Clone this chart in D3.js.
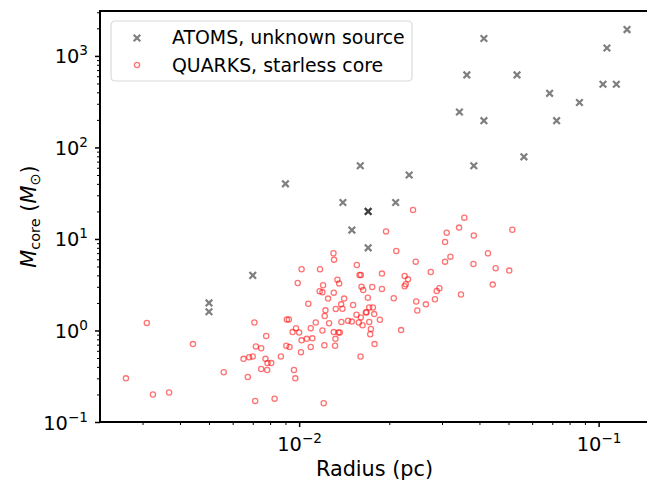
<!DOCTYPE html>
<html>
<head>
<meta charset="utf-8">
<script src="https://cdn.jsdelivr.net/npm/d3@7"></script>
<style>
  body { margin: 0; background: #fff; }
  text { font-family: "DejaVu Sans", sans-serif; }
</style>
</head>
<body>
<div id="chart"></div>
<script>
// ATOMS, unknown source: [radius (pc), mass (Msun)]
const atomsR = [0.005, 0.005, 0.007, 0.009, 0.014, 0.015, 0.016, 0.017, 0.017, 0.017, 0.021, 0.0233,
  0.0414, 0.0363, 0.0534, 0.0686, 0.0863, 0.1066, 0.1244, 0.1034, 0.1146, 0.0343, 0.0414, 0.0724, 0.0563, 0.0383];
const atomsM = [2.0, 1.6, 4.0, 40, 25, 12.5, 63, 20, 20, 8, 25, 50,
  1550, 620, 620, 390, 310, 1220, 1940, 490, 490, 244, 196, 196, 79, 63];

// QUARKS, starless core
const quarksR = [0.00264, 0.00325, 0.00368, 0.0031, 0.00442, 0.0056, 0.00652, 0.00674, 0.00681, 0.007,
  0.00709, 0.00713, 0.00717, 0.00747, 0.00747, 0.00772, 0.00776, 0.00782, 0.00784, 0.00807,
  0.00828, 0.00869, 0.00906, 0.0091, 0.00924, 0.00929, 0.00951, 0.00961, 0.00971, 0.00976,
  0.00989, 0.01, 0.01014, 0.01019, 0.01019, 0.0106, 0.01073, 0.01093, 0.01093, 0.01107,
  0.01136, 0.01171, 0.01174, 0.01196, 0.01202, 0.01208, 0.01214, 0.01217, 0.01224, 0.01196,
  0.01249, 0.01259, 0.01302, 0.01305, 0.01305, 0.01308, 0.01318, 0.01322, 0.01325, 0.01342,
  0.01353, 0.0136, 0.01367, 0.01381, 0.01395, 0.01384, 0.01413, 0.01457, 0.01499, 0.01514,
  0.01554, 0.01558, 0.01582, 0.01591, 0.01603, 0.01607, 0.01607, 0.01615, 0.01628, 0.01636,
  0.0167, 0.01679, 0.01696, 0.01714, 0.01714, 0.01727, 0.01736, 0.01754, 0.01763, 0.01781, 0.01786,
  0.024, 0.0356, 0.0342, 0.0515, 0.0195, 0.0311, 0.0383, 0.0307, 0.0211, 0.0427,
  0.032, 0.0245, 0.0307, 0.0382, 0.0453, 0.0503, 0.0275, 0.0189, 0.0225, 0.0231,
  0.0227, 0.0225, 0.0294, 0.0189, 0.0288, 0.0443, 0.0347, 0.0207, 0.0284, 0.0246,
  0.0265, 0.0248, 0.0186, 0.0219];
const quarksM = [0.30, 0.20, 0.21, 1.21, 0.71, 0.35, 0.49, 0.31, 0.51, 0.52,
  1.22, 0.17, 0.67, 0.64, 0.38, 0.49, 0.87, 0.37, 0.44, 0.44,
  0.18, 0.52, 0.68, 1.32, 1.32, 0.66, 0.96, 0.37, 0.30, 1.06,
  3.30, 0.95, 0.58, 0.78, 4.66, 0.81, 1.96, 1.06, 0.66, 0.82,
  1.22, 2.68, 4.66, 2.61, 3.12, 0.16, 0.69, 1.44, 1.66, 1.0,
  2.23, 1.20, 6.97, 0.96, 2.59, 5.94, 0.68, 0.81, 1.72, 3.59,
  0.95, 3.27, 0.95, 1.93, 1.73, 1.24, 2.23, 1.28, 1.25, 1.90,
  1.49, 5.20, 1.22, 4.04, 0.52, 4.04, 1.39, 3.01, 1.14, 2.77,
  1.57, 1.58, 2.28, 1.24, 1.78, 0.91, 1.04, 2.99, 1.78, 1.51, 0.71,
  20.7, 17.1, 13.3, 12.6, 12.1, 11.7, 10.9, 9.27, 7.39, 6.97,
  6.41, 5.65, 5.65, 5.33, 4.78, 4.51, 4.36, 4.18, 3.94, 3.62,
  3.20, 3.04, 2.89, 2.84, 2.70, 3.17, 2.47, 2.25, 2.19, 2.07,
  1.93, 1.65, 1.31, 1.01];

const xMajor = [-2, -1];
const yMajor = [-1, 0, 1, 2, 3];
const legendLabels = ['ATOMS, unknown source', 'QUARKS, starless core'];

const W = 647, H = 483;
const margin = {left: 100, right: -2, top: 11, bottom: 61};
const width = W - margin.left - margin.right;
const height = H - margin.top - margin.bottom;

const svg = d3.select('#chart').append('svg')
    .attr('width', W).attr('height', H);

const g = svg.append('g').attr('transform', 'translate(' + margin.left + ',' + margin.top + ')');

const xScale = d3.scaleLog().domain([0.002163, 0.1473]).range([0, width]);
const yScale = d3.scaleLog().domain([0.1, 3095]).range([height, 0]);

// minor tick values
function minors(lo, hi) {
    const out = [];
    for (let e = lo; e <= hi; e++) {
        for (let k = 2; k <= 9; k++) out.push(k * Math.pow(10, e));
    }
    return out;
}

const xMinor = minors(-3, -1).filter(v => v >= xScale.domain()[0] && v <= xScale.domain()[1]);
const yMinor = minors(-1, 3).filter(v => v >= yScale.domain()[0] && v <= yScale.domain()[1]);

function drawXAxis() {
    const ax = g.append('g').attr('class', 'x axis').attr('transform', 'translate(0,' + height + ')');
    ax.call(d3.axisBottom(xScale).tickValues(xMinor).tickSize(3).tickFormat(''))
    ax.select('path').remove();
    ax.selectAll('.tick line').attr('stroke-width', 1);
    const maj = g.append('g').attr('transform', 'translate(0,' + height + ')');
    maj.call(d3.axisBottom(xScale).tickValues(xMajor.map(e => Math.pow(10, e))).tickSize(5).tickFormat(''))
    maj.select('path').remove();
    maj.selectAll('.tick line').attr('stroke-width', 1.5);
    maj.selectAll('.tick').append('text')
        .attr('y', 29).attr('fill', 'black').attr('text-anchor', 'middle')
        .attr('font-size', 19.4)
        .each(function (d) {
            const t = d3.select(this);
            t.append('tspan').text('10');
            t.append('tspan').attr('dy', -8).attr('font-size', 13.6).text('\u2212' + Math.round(-Math.log10(d)));
        });
}

function drawYAxis() {
    const ax = g.append('g').attr('class', 'y axis');
    ax.call(d3.axisLeft(yScale).tickValues(yMinor).tickSize(3).tickFormat(''))
    ax.select('path').remove();
    ax.selectAll('.tick line').attr('stroke-width', 1);
    const maj = g.append('g');
    maj.call(d3.axisLeft(yScale).tickValues(yMajor.map(e => Math.pow(10, e))).tickSize(5).tickFormat(''))
    maj.select('path').remove();
    maj.selectAll('.tick line').attr('stroke-width', 1.5);
    maj.selectAll('.tick').append('text')
        .attr('x', -12).attr('y', 7).attr('fill', 'black').attr('text-anchor', 'end')
        .attr('font-size', 19.4)
        .each(function (d) {
            const t = d3.select(this);
            const e = Math.round(Math.log10(d));
            t.append('tspan').text('10');
            t.append('tspan').attr('dy', -8).attr('font-size', 13.6).text(e < 0 ? '\u2212' + (-e) : e);
        });
}

drawXAxis();
drawYAxis();

// spines
g.append('rect')
    .attr('x', 0).attr('y', 0).attr('width', width).attr('height', height)
    .attr('fill', 'none').attr('stroke', 'black').attr('stroke-width', 2);

// labels
svg.append('text')
    .text('Radius (pc)')
    .attr('x', margin.left + width / 2).attr('y', 476)
    .attr('text-anchor', 'middle').attr('font-size', 20.8);

const yl = svg.append('text')
    .attr('transform', 'translate(36,' + (margin.top + height / 2) + '),rotate(-90)')
    .attr('text-anchor', 'middle').attr('font-size', 20.8);
yl.append('tspan').attr('font-style', 'italic').text('M');
yl.append('tspan').attr('font-size', 14.5).attr('dy', 4).text('core');
yl.append('tspan').attr('dy', -4).text(' (');
yl.append('tspan').attr('font-style', 'italic').text('M');
yl.append('tspan').attr('font-size', 14.5).attr('dy', 4).text('\u2299');
yl.append('tspan').attr('dy', -4).text(')');

const clip = svg.append('clipPath').attr('id', 'clip').append('rect')
    .attr('width', width).attr('height', height);
const plot = g.append('g').attr('clip-path', 'url(#clip)');

function crossPath(x, y, s) {
    return 'M' + (x - s) + ',' + (y - s) + 'L' + (x + s) + ',' + (y + s) +
        'M' + (x - s) + ',' + (y + s) + 'L' + (x + s) + ',' + (y - s);
}

// QUARKS circles
plot.append('g').attr('class', 'circles')
    .selectAll('circle')
    .data(quarksR.map((r, i) => ({r: r, m: quarksM[i]})))
    .enter()
    .append('circle')
    .attr('cx', d => xScale(d.r))
    .attr('cy', d => yScale(d.m))
    .attr('r', 2.6)
    .attr('fill', 'none')
    .attr('stroke', 'red')
    .attr('stroke-opacity', 0.55)
    .attr('stroke-width', 1.3);

// ATOMS crosses
plot.append('g').attr('class', 'crosses')
    .selectAll('path')
    .data(atomsR.map((r, i) => ({r: r, m: atomsM[i]})))
    .enter()
    .append('path')
    .attr('d', d => crossPath(xScale(d.r), yScale(d.m), 3.3))
    .attr('stroke', 'black')
    .attr('stroke-opacity', 0.5)
    .attr('stroke-width', 2.2);

// legend
const lg = g.append('g').attr('transform', 'translate(11,10)');
lg.append('rect')
    .attr('width', 301).attr('height', 60).attr('rx', 4)
    .attr('fill', 'white').attr('fill-opacity', 0.8)
    .attr('stroke', '#d9d9d9').attr('stroke-width', 1.2);
lg.append('path').attr('d', crossPath(26, 17, 3.3))
    .attr('stroke', 'black').attr('stroke-opacity', 0.5).attr('stroke-width', 2.2);
lg.append('circle').attr('cx', 26).attr('cy', 44).attr('r', 2.6)
    .attr('fill', 'none').attr('stroke', 'red').attr('stroke-opacity', 0.55).attr('stroke-width', 1.3);
lg.selectAll('text.leg')
    .data(legendLabels)
    .enter()
    .append('text')
    .attr('class', 'leg')
    .attr('x', 61)
    .attr('y', (d, i) => 23 + i * 28)
    .attr('font-size', 18.9)
    .text(d => d);
</script>
</body>
</html>
